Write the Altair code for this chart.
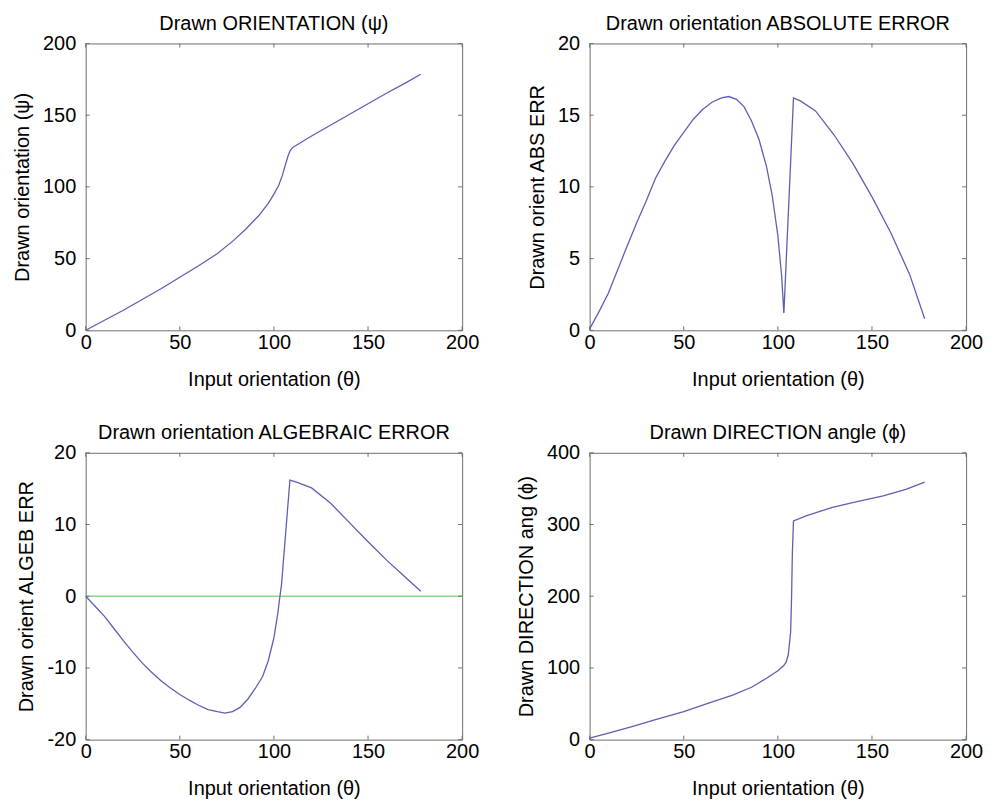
import altair as alt
import pandas as pd

FONT = "Liberation Sans"
FS = 20
LINE = "#5e5eb4"
GREEN = "#86d986"
FRAME = "#6e6e6e"

# ---- data ----
x_ticks = [0, 50, 100, 150, 200]

theta_psi = [0, 10, 20, 30, 40, 50, 60, 70, 78, 85, 92, 97, 100, 102.5, 104.5, 106, 107.5, 108.5, 110, 115, 120, 130, 140, 150, 160, 170, 178]
psi = [0, 7, 14, 21.5, 29, 37, 45, 53.5, 62, 70.5, 80, 88.5, 95, 101, 108, 115, 121.5, 125, 127.5, 131.5, 135.5, 143, 150.5, 158, 165.5, 172.5, 178.5]
psi_ticks = [0, 50, 100, 150, 200]

theta_abs = [0, 5, 10, 20, 25, 30, 35, 40, 45, 50, 55, 60, 65, 70, 74, 78, 82, 86, 90, 94, 97, 100, 102, 103.2, 108.3, 112, 120, 130, 140, 150, 160, 170, 178]
abs_err = [0.1, 1.3, 2.6, 5.9, 7.5, 9.0, 10.6, 11.8, 12.9, 13.8, 14.7, 15.4, 15.9, 16.2, 16.3, 16.1, 15.6, 14.6, 13.3, 11.4, 9.4, 6.6, 3.8, 1.2, 16.2, 16.0, 15.3, 13.6, 11.6, 9.3, 6.8, 3.9, 0.8]
abs_ticks = [0, 5, 10, 15, 20]

theta_alg = [0, 5, 10, 15, 20, 25, 30, 35, 40, 45, 50, 55, 60, 65, 70, 74, 78, 82, 86, 90, 94, 97, 100, 102, 103.2, 104, 108.5, 112, 120, 130, 140, 150, 160, 170, 178]
alg_err = [0, -1.4, -2.8, -4.5, -6.2, -7.8, -9.3, -10.6, -11.8, -12.8, -13.7, -14.5, -15.2, -15.8, -16.1, -16.3, -16.1, -15.5, -14.4, -12.9, -11.2, -9.0, -5.8, -2.5, 0, 1.5, 16.2, 15.9, 15.1, 13.0, 10.3, 7.6, 5.0, 2.6, 0.7]
alg_ticks = [-20, -10, 0, 10, 20]
zero_line = [0]

theta_dir = [0, 10, 23, 35, 50, 62, 76, 86, 94, 100, 103, 104.4, 105.5, 106.8, 107.3, 107.7, 108.3, 115, 129, 142, 156, 168, 178]
phi = [2, 9, 18.5, 28, 39, 50, 62, 73, 85.5, 96, 103, 108, 118, 150, 200, 260, 305, 312, 324, 332, 340, 349, 359]
dir_ticks = [0, 100, 200, 300, 400]

W, H = 378, 288


def xenc():
    return alt.X(
        "theta:Q",
        scale=alt.Scale(domain=[0, 200], nice=False, zero=False),
        axis=alt.Axis(values=x_ticks, title="Input orientation (θ)", labelFlush=False,
                      labelPadding=2, titlePadding=17, labelExpr="'' + datum.value"),
    )


def yenc(title, dom, ticks):
    return alt.Y(
        "val:Q",
        scale=alt.Scale(domain=dom, nice=False, zero=False),
        axis=alt.Axis(values=ticks, title=title, labelFlush=False, labelPadding=10,
                      titlePadding=10, labelExpr="'' + datum.value"),
    )


def panel(title, xs, ys, ytitle, dom, yticks, zero=None):
    df = pd.DataFrame({"theta": xs, "val": ys})
    xt = pd.DataFrame({"theta": x_ticks})
    yt = pd.DataFrame({"val": yticks})
    layers = []
    if zero is not None:
        zdf = pd.DataFrame({"val": zero})
        layers.append(
            alt.Chart(zdf).mark_rule(color=GREEN, strokeWidth=1.6).encode(y=yenc(ytitle, dom, yticks))
        )
    layers.append(
        alt.Chart(df).mark_line(color=LINE, strokeWidth=1.3).encode(x=xenc(), y=yenc(ytitle, dom, yticks))
    )
    layers.append(alt.Chart(xt).mark_rule(color=FRAME, strokeWidth=1).encode(
        x=xenc(), y=alt.value(H), y2=alt.value(H - 4)))
    layers.append(alt.Chart(xt).mark_rule(color=FRAME, strokeWidth=1).encode(
        x=xenc(), y=alt.value(0), y2=alt.value(4)))
    layers.append(alt.Chart(yt).mark_rule(color=FRAME, strokeWidth=1).encode(
        y=yenc(ytitle, dom, yticks), x=alt.value(0), x2=alt.value(4)))
    layers.append(alt.Chart(yt).mark_rule(color=FRAME, strokeWidth=1).encode(
        y=yenc(ytitle, dom, yticks), x=alt.value(W), x2=alt.value(W - 4)))
    return alt.layer(*layers).properties(
        width=W, height=H,
        title=alt.TitleParams(text=title, font=FONT, fontSize=FS, fontWeight="normal",
                              color="black", frame="group", anchor="middle", offset=0),
    )


p1 = panel("Drawn ORIENTATION (ψ)", theta_psi, psi, "Drawn orientation (ψ)", [0, 200], psi_ticks)
p2 = panel("Drawn orientation ABSOLUTE ERROR", theta_abs, abs_err, "Drawn orient ABS ERR", [0, 20], abs_ticks)
p3 = panel("Drawn orientation ALGEBRAIC ERROR", theta_alg, alg_err, "Drawn orient ALGEB ERR", [-20, 20], alg_ticks, zero=zero_line)
p4 = panel("Drawn DIRECTION angle (ϕ)", theta_dir, phi, "Drawn DIRECTION ang (ϕ)", [0, 400], dir_ticks)

chart = alt.concat(p1, p2, p3, p4, columns=2, spacing={"row": 32, "column": 36}).properties(
    padding={"left": 4, "top": 3, "right": 5, "bottom": 0},
    background="white",
).configure_view(
    stroke=FRAME, strokeWidth=1
).configure_axis(
    domain=False, ticks=False, grid=False,
    labelFont=FONT, labelFontSize=FS, labelColor="black",
    titleFont=FONT, titleFontSize=FS, titleFontWeight="normal", titleColor="black",
)

chart.save("out.html", embed_options={"renderer": "svg", "actions": False})
